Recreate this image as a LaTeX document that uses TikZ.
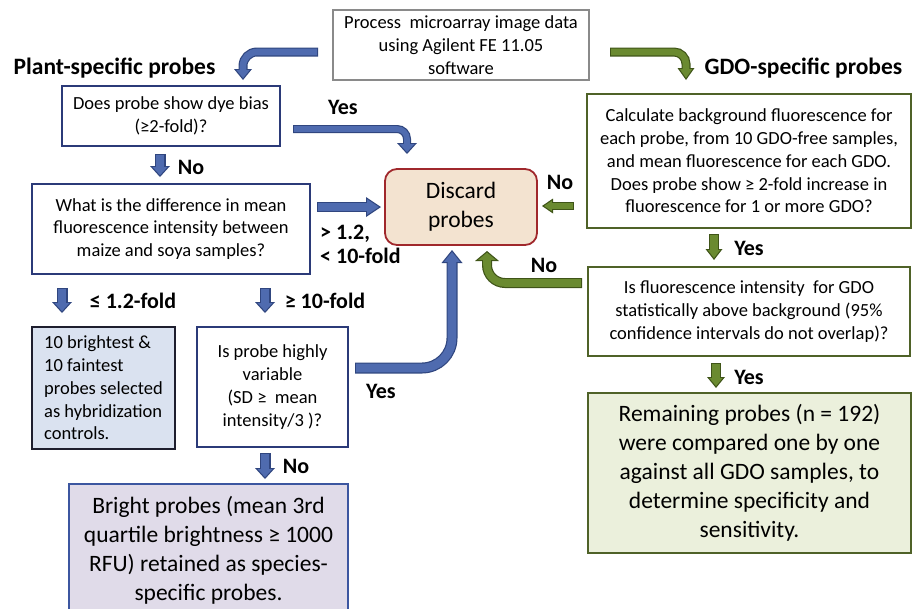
\documentclass[tikz,border=0pt]{standalone}
\usepackage{fontspec}
\setmainfont{Carlito}
\usetikzlibrary{arrows.meta,calc}
\definecolor{blueF}{HTML}{4F6BAF}
\definecolor{blueB}{HTML}{30467F}
\definecolor{greenF}{HTML}{6A8A30}
\definecolor{greenB}{HTML}{3F5418}
\definecolor{navy}{HTML}{2B3A78}
\definecolor{grayB}{HTML}{8A8A8A}
\definecolor{darkB}{HTML}{1E1E2E}
\definecolor{blueL}{HTML}{DAE2F0}
\definecolor{brightB}{HTML}{3C56A0}
\definecolor{lav}{HTML}{E0DBE9}
\definecolor{redB}{HTML}{A0282C}
\definecolor{tan}{HTML}{F3E3D0}
\definecolor{oliveB}{HTML}{4F6228}
\definecolor{greenL}{HTML}{EBF0DC}
\newcommand\barr[6]{%
  \pgfmathsetlengthmacro\bIn{#2pt-2.4pt}%
  \pgfmathsetmacro\bPull{1.2/sin(atan((#3/2)/#4))}%
  \pgfmathsetlengthmacro\bPullL{\bPull pt}%
  \pgfmathsetlengthmacro\bLin{#4pt-1.2pt-\bPull pt}%
  \pgfmathsetlengthmacro\bWin{#3pt*(#4-1.2-\bPull)/#4}%
  \draw[draw=#1B, line width=#2pt, rounded corners=#5pt, -{Triangle[width=#3pt,length=#4pt,line width=0pt]}] #6;
  \draw[draw=#1F, line width=\bIn, rounded corners=#5pt, shorten <=1.2pt, shorten >=\bPullL, -{Triangle[width=\bWin,length=\bLin,line width=0pt]}] #6;
}
\tikzset{
  box/.style={draw, line width=1.8pt, inner sep=0pt, align=center, font=\fontsize{18.5}{22.8}\selectfont},
  bigbox/.style={box, font=\fontsize{23.5}{29}\selectfont},
  lbl/.style={font=\bfseries\fontsize{22}{24}\selectfont, inner sep=0pt},
  hdr/.style={font=\bfseries\fontsize{23.5}{26}\selectfont, inner sep=0pt},
}
\begin{document}
\begin{tikzpicture}[x=1pt,y=-1pt]
\useasboundingbox (0,0) rectangle (912,608);
% boxes
\node[box, draw=grayB, minimum width=256pt, minimum height=70pt] (top) at (461,45) {Process\ \ microarray image data\\using Agilent FE 11.05\\software};
\node[hdr] (plant) at (114.5,68) {Plant-specific probes};
\node[hdr] (gdo) at (803.5,68) {GDO-specific probes};
\node[box, draw=navy, minimum width=218pt, minimum height=60pt] (dye) at (171,116) {Does probe show dye bias\\(≥2-fold)?};
\node[box, draw=navy, minimum width=278pt, minimum height=90pt] (diff) at (171,229) {What is the difference in mean\\fluorescence intensity between\\maize and soya samples?};
\node[bigbox, rounded corners=12pt, draw=redB, fill=tan, minimum width=152pt, minimum height=76pt] (discard) at (461,207) {Discard\\probes};
\node[box, draw=oliveB, minimum width=324pt, minimum height=134pt] (calc) at (749,161) {Calculate background fluorescence for\\each probe, from 10 GDO-free samples,\\and mean fluorescence for each GDO.\\Does probe show ≥ 2-fold increase in\\fluorescence for 1 or more GDO?};
\node[box, draw=oliveB, minimum width=322pt, minimum height=89pt] (fluor) at (749,311.5) {Is fluorescence intensity\ \ for GDO\\statistically above background (95\%\\confidence intervals do not overlap)?};
\node[bigbox, draw=oliveB, fill=greenL, minimum width=323pt, minimum height=160pt] (remain) at (749.5,473) {Remaining probes (n = 192)\\were compared one by one\\against all GDO samples, to\\determine specificity and\\sensitivity.};
\node[box, draw=darkB, fill=blueL, align=left, minimum width=143pt, minimum height=122pt] (ten) at (103.5,388) {10 brightest \&\\10 faintest\\probes selected\\as hybridization\\controls.};
\node[box, draw=navy, minimum width=151pt, minimum height=120pt] (var) at (272.5,387) {Is probe highly\\variable\\(SD ≥\ \ mean\\intensity/3 )?};
\node[bigbox, draw=brightB, fill=lav, minimum width=279pt, minimum height=132pt] (bright) at (208.5,550) {Bright probes (mean 3rd\\quartile brightness ≥ 1000\\RFU) retained as species-\\specific probes.};
% labels
\node[lbl] (yes1) at (343,107) {Yes};
\node[lbl] (no1) at (191,167) {No};
\node[lbl, align=left, anchor=west, font=\bfseries\fontsize{22}{24}\selectfont] (range) at (320,244) {> 1.2,\\< 10-fold};
\node[lbl] (no2) at (560,182) {No};
\node[lbl] (no3) at (544,265) {No};
\node[lbl] (yes2) at (381,391) {Yes};
\node[lbl] (yes3) at (749,248) {Yes};
\node[lbl] (yes4) at (749,377) {Yes};
\node[lbl] (le) at (133,301) {≤ 1.2-fold};
\node[lbl] (ge) at (325,301) {≥ 10-fold};
\node[lbl] (no4) at (296,466) {No};
% arrow end points
\coordinate (a1s) at (318,52);  \coordinate (a1e) at (243,80);
\coordinate (a2s) at (610,52);  \coordinate (a2e) at (686,80);
\coordinate (a3s) at (293,129); \coordinate (a3e) at (407,154);
\coordinate (a4s) at (160,154); \coordinate (a4e) at (160,177);
\coordinate (a5s) at (317,207); \coordinate (a5e) at (381,207);
\coordinate (a6s) at (574,206); \coordinate (a6e) at (542,206);
\coordinate (a7s) at (582,283); \coordinate (a7e) at (487,251);
\coordinate (a8s) at (355,368); \coordinate (a8e) at (452,250);
\coordinate (a9s) at (714,234); \coordinate (a9e) at (714,260);
\coordinate (a10s) at (716,363); \coordinate (a10e) at (716,388);
\coordinate (a11s) at (62,288); \coordinate (a11e) at (62,313);
\coordinate (a12s) at (265,288); \coordinate (a12e) at (265,313);
\coordinate (a13s) at (265,453); \coordinate (a13e) at (265,479);
% arrows
\barr{blue}{9}{18}{11}{14}{(a1s) -| (a1e)}
\barr{green}{9}{17}{12}{12}{(a2s) -| (a2e)}
\barr{blue}{8}{20}{11}{10}{(a3s) -| (a3e)}
\barr{blue}{11}{20}{11}{1}{(a4s) -- (a4e)}
\barr{blue}{10}{20}{15}{1}{(a5s) -- (a5e)}
\barr{green}{8}{15}{11}{1}{(a6s) -- (a6e)}
\barr{green}{10}{24}{10}{18}{(a7s) -| (a7e)}
\barr{blue}{11}{21}{13}{30}{(a8s) -| (a8e)}
\barr{green}{10}{17}{11}{1}{(a9s) -- (a9e)}
\barr{green}{10}{18}{11}{1}{(a10s) -- (a10e)}
\barr{blue}{11}{20}{11}{1}{(a11s) -- (a11e)}
\barr{blue}{11}{20}{11}{1}{(a12s) -- (a12e)}
\barr{blue}{11}{20}{11}{1}{(a13s) -- (a13e)}
\end{tikzpicture}
\end{document}
